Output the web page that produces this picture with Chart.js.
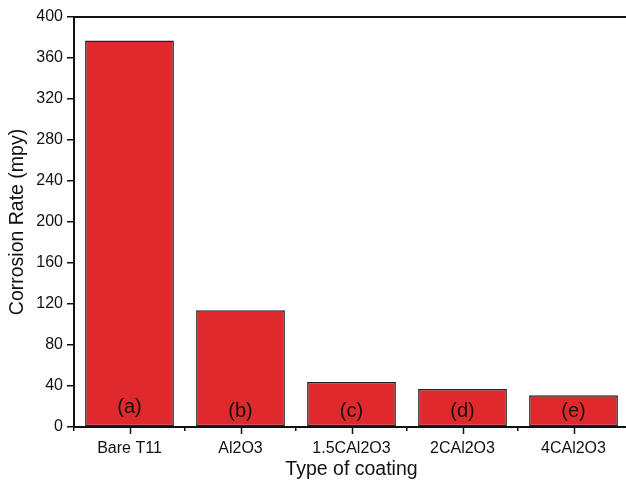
<!DOCTYPE html>
<html>
<head>
<meta charset="utf-8">
<script src="https://cdn.jsdelivr.net/npm/chart.js@4/dist/chart.umd.min.js"></script>
<style>
  html, body { margin: 0; padding: 0; background: #fff; overflow: hidden; }
  #wrap { width: 640px; height: 487px; }
</style>
</head>
<body>
<div id="wrap"><canvas id="c" width="640" height="487"></canvas></div>
<script>
// Corrosion rate of bare and coated T11 steel
const categories = ['Bare T11', 'Al2O3', '1.5CAl2O3', '2CAl2O3', '4CAl2O3'];
const corrosionRate = [377, 114, 44, 37, 31];
const barTags = ['(a)', '(b)', '(c)', '(d)', '(e)'];
const tagLevels = [19, 15, 15, 15, 15];
const yTicks = [0, 40, 80, 120, 160, 200, 240, 280, 320, 360, 400];

const FONT = "'Liberation Sans', Arial, Helvetica, sans-serif";
const INK = '#111111';

// Frame line on top, centre ticks on the category axis, and bar tags
const decor = {
  id: 'decor',
  afterDatasetsDraw(chart) {
    const ctx = chart.ctx;
    const a = chart.chartArea;
    const x = chart.scales.x, y = chart.scales.y;
    ctx.save();
    ctx.strokeStyle = INK;
    ctx.lineWidth = 2;
    ctx.beginPath();
    ctx.moveTo(a.left - 1, a.top);
    ctx.lineTo(chart.width, a.top);
    ctx.stroke();
    ctx.lineWidth = 1.5;
    categories.forEach((c, i) => {
      const px = Math.round(x.getPixelForValue(i)) + 0.5;
      ctx.beginPath();
      ctx.moveTo(px, a.bottom);
      ctx.lineTo(px, a.bottom + 7);
      ctx.stroke();
    });
    ctx.fillStyle = INK;
    ctx.font = '20px ' + FONT;
    ctx.textAlign = 'center';
    ctx.textBaseline = 'middle';
    barTags.forEach((t, i) => {
      ctx.fillText(t, x.getPixelForValue(i), y.getPixelForValue(tagLevels[i]));
    });
    ctx.restore();
  }
};

new Chart(document.getElementById('c'), {
  type: 'bar',
  data: {
    labels: categories,
    datasets: [{
      data: corrosionRate,
      backgroundColor: '#DF292D',
      borderColor: '#222222',
      borderWidth: 1.5,
      borderSkipped: false,
      barPercentage: 0.8,
      categoryPercentage: 1.0
    }]
  },
  options: {
    responsive: false,
    animation: false,
    layout: { padding: { top: 17, right: 11, left: 0, bottom: 0 } },
    plugins: { legend: { display: false }, tooltip: { enabled: false } },
    scales: {
      x: {
        offset: true,
        grid: {
          offset: true,
          drawOnChartArea: false,
          drawTicks: true,
          tickLength: 4,
          color: INK,
          lineWidth: 1.5
        },
        border: { color: INK, width: 2 },
        ticks: { color: INK, font: { family: FONT, size: 16 }, padding: 8, maxRotation: 0, autoSkip: false },
        title: { display: true, text: 'Type of coating', color: INK, font: { family: FONT, size: 19.5 }, padding: { top: 0, bottom: 6 } },
        afterFit(s) { s.height = 60; }
      },
      y: {
        min: 0,
        max: 400,
        afterBuildTicks(s) { s.ticks = yTicks.map(v => ({ value: v })); },
        grid: {
          drawOnChartArea: false,
          drawTicks: true,
          tickLength: 7,
          color: INK,
          lineWidth: 1.5
        },
        border: { color: INK, width: 2 },
        ticks: { color: INK, font: { family: FONT, size: 16 }, padding: 4 },
        title: { display: true, text: 'Corrosion Rate (mpy)', color: INK, font: { family: FONT, size: 19.5 }, padding: { top: 6, bottom: 0 } },
        afterFit(s) { s.width = 74; }
      }
    }
  },
  plugins: [decor]
});
</script>
</body>
</html>
